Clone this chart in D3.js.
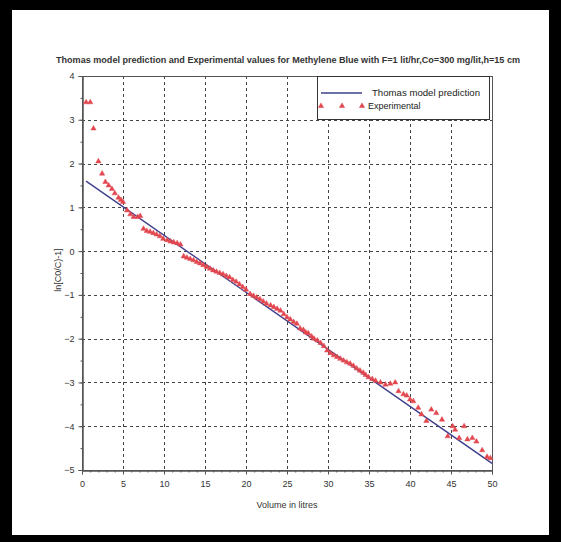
<!DOCTYPE html>
<html>
<head>
<meta charset="utf-8">
<script src="https://cdn.jsdelivr.net/npm/d3@7"></script>
<style>
  body { margin: 0; background: #000; }
  text { font-family: "Liberation Sans", Arial, sans-serif; }
</style>
</head>
<body>
<div id="chart"></div>
<script>
// experimental points (volume in litres, ln[C0/C)-1])
var expVolume = [0.5, 1.0, 1.4, 2.0, 2.45, 2.85, 3.25, 3.65, 4.0, 4.45, 4.75, 5.0, 5.5, 5.9, 6.3, 6.8, 7.1,
  7.5, 7.9, 8.3, 8.7, 9.1, 9.5, 9.9, 10.4, 10.8, 11.2, 11.6, 12.0, 12.4, 12.8, 13.2, 13.6, 14.0, 14.4,
  14.8, 15.2, 15.6, 16.0, 16.4, 16.8, 17.2, 17.6, 18.0, 18.4, 18.8, 19.2, 19.6, 20.0, 20.5, 20.9, 21.3,
  21.7, 22.1, 22.5, 23.0, 23.4, 23.8, 24.2, 24.6, 25.0, 25.4, 25.8, 26.2, 26.6, 27.0, 27.3, 27.6, 28.0,
  28.3, 28.7, 29.1, 29.5, 29.9, 30.3, 30.7, 31.1, 31.5, 31.9, 32.3, 32.7, 33.1, 33.5, 33.9, 34.3, 34.6,
  34.95, 35.4, 35.8, 36.4, 37.0, 37.6, 38.2, 38.6, 39.2, 39.6, 40.0, 40.4, 41.0, 41.4, 42.0, 42.6, 43.2,
  43.9, 44.6, 45.2, 45.5, 46.0, 46.6, 47.0, 47.6, 48.1, 48.8, 49.4, 49.8]
var expValue = [3.4, 3.4, 2.8, 2.05, 1.77, 1.58, 1.5, 1.42, 1.32, 1.22, 1.17, 1.12, 0.93, 0.84, 0.78, 0.78, 0.8,
  0.51, 0.46, 0.44, 0.41, 0.38, 0.34, 0.28, 0.25, 0.22, 0.2, 0.18, 0.15, -0.12, -0.15, -0.18, -0.21, -0.25, -0.28,
  -0.32, -0.36, -0.4, -0.44, -0.47, -0.5, -0.53, -0.57, -0.6, -0.66, -0.7, -0.76, -0.82, -0.88, -0.98, -1.02, -1.06,
  -1.1, -1.15, -1.2, -1.24, -1.28, -1.32, -1.36, -1.44, -1.51, -1.56, -1.62, -1.66, -1.77, -1.8, -1.86, -1.88, -1.95,
  -2.0, -2.04, -2.1, -2.17, -2.27, -2.33, -2.38, -2.42, -2.46, -2.5, -2.54, -2.57, -2.62, -2.68, -2.73, -2.78, -2.83,
  -2.88, -2.92, -2.96, -3.0, -3.05, -3.03, -3.0, -3.2, -3.27, -3.3, -3.39, -3.43, -3.58, -3.73, -3.88, -3.62, -3.7,
  -3.85, -4.23, -4.0, -4.08, -4.27, -4.0, -4.3, -4.27, -4.35, -4.55, -4.7, -4.73]

// Thomas model line
var modelVolume = [0.5, 50]
var modelValue = [1.6, -4.85]

var xTicks = [0, 5, 10, 15, 20, 25, 30, 35, 40, 45, 50]
var yTicks = [-5, -4, -3, -2, -1, 0, 1, 2, 3, 4]

var titleText = "Thomas model prediction and Experimental values for Methylene Blue with F=1 lit/hr,Co=300 mg/lit,h=15 cm"
var xLabel = "Volume in litres"
var yLabel = "ln[C0/C)-1]"
var legendLabels = ["Thomas model prediction", "Experimental"]

var width = 561, height = 542
var plot = { left: 82, right: 492, top: 76, bottom: 470 }
var lineColor = "#3d3f8c", markColor = "#e2474f"

var svg = d3.select("#chart").append("svg")
  .attr("width", width).attr("height", height)

// black frame with white page
svg.append("rect").attr("width", width).attr("height", height).attr("fill", "#000")
svg.append("rect").attr("x", 12).attr("y", 10).attr("width", 537).attr("height", 525).attr("fill", "#fff")

var x = d3.scaleLinear().domain([0, 50]).range([plot.left, plot.right])
var y = d3.scaleLinear().domain([-5, 4]).range([plot.bottom, plot.top])

// grid
var grid = svg.append("g").attr("stroke", "#444").attr("stroke-width", 1).attr("stroke-dasharray", "3,3")
grid.selectAll(".gx").data(xTicks.slice(1, -1)).enter().append("line")
  .attr("x1", d => Math.round(x(d)) + 0.5).attr("x2", d => Math.round(x(d)) + 0.5)
  .attr("y1", plot.top).attr("y2", plot.bottom)
grid.selectAll(".gy").data(yTicks.slice(1, -1)).enter().append("line")
  .attr("y1", d => Math.round(y(d)) + 0.5).attr("y2", d => Math.round(y(d)) + 0.5)
  .attr("x1", plot.left).attr("x2", plot.right)

// box
svg.append("rect").attr("x", plot.left + 0.5).attr("y", plot.top + 0.5)
  .attr("width", plot.right - plot.left).attr("height", plot.bottom - plot.top)
  .attr("fill", "none").attr("stroke", "#555").attr("stroke-width", 1)

// axes
svg.append("g").attr("transform", "translate(0," + (plot.bottom + 0.5) + ")")
  .call(d3.axisBottom(x).tickValues(xTicks).tickSize(4).tickPadding(6))
svg.append("g").attr("transform", "translate(0," + (plot.bottom + 0.5) + ")")
  .call(d3.axisBottom(x).ticks(50).tickSize(2).tickFormat(""))
svg.append("g").attr("transform", "translate(" + (plot.left + 0.5) + ",0)")
  .call(d3.axisLeft(y).tickValues(yTicks).tickSize(4).tickPadding(4))
svg.append("g").attr("transform", "translate(" + (plot.left + 0.5) + ",0)")
  .call(d3.axisLeft(y).tickValues(d3.range(-5, 4.01, 0.5)).tickSize(2).tickFormat(""))
svg.selectAll(".domain").attr("stroke", "#555")
svg.selectAll(".tick line").attr("stroke", "#555")
svg.selectAll(".tick text").attr("fill", "#333").style("font-size", "9px")

// model line
var line = d3.line().x(d => x(d[0])).y(d => y(d[1]))
svg.append("path").datum(d3.zip(modelVolume, modelValue))
  .attr("d", line).attr("fill", "none").attr("stroke", lineColor).attr("stroke-width", 1.4)

// experimental triangles
var tri = d3.symbol().type(d3.symbolTriangle).size(12)
svg.selectAll(".pt").data(d3.zip(expVolume, expValue)).enter().append("path")
  .attr("d", tri)
  .attr("transform", d => "translate(" + x(d[0]) + "," + y(d[1]) + ")")
  .attr("fill", markColor).attr("stroke", markColor).attr("stroke-width", 0.5)

// title and labels
svg.append("text").attr("x", 288).attr("y", 63).attr("text-anchor", "middle")
  .attr("textLength", 464).attr("lengthAdjust", "spacingAndGlyphs")
  .style("font-size", "9px").style("font-weight", "bold").attr("fill", "#333").text(titleText)
svg.append("text").attr("x", 287).attr("y", 508).attr("text-anchor", "middle")
  .style("font-size", "9px").attr("fill", "#333").text(xLabel)
svg.append("text").attr("transform", "translate(61,270) rotate(-90)").attr("text-anchor", "middle")
  .style("font-size", "9px").attr("fill", "#333").text(yLabel)

// legend
var lg = svg.append("g")
lg.append("rect").attr("x", 317.5).attr("y", plot.top + 0.5).attr("width", 172).attr("height", 43)
  .attr("fill", "#fff").attr("stroke", "#333")
lg.append("line").attr("x1", 321).attr("x2", 362).attr("y1", 93).attr("y2", 93)
  .attr("stroke", lineColor).attr("stroke-width", 1.4)
lg.selectAll(".lt").data([321, 342, 362]).enter().append("path")
  .attr("d", tri).attr("transform", d => "translate(" + d + ",106)")
  .attr("fill", markColor).attr("stroke", markColor).attr("stroke-width", 0.5)
lg.append("text").attr("x", 372).attr("y", 96).style("font-size", "9px").attr("fill", "#222")
  .attr("textLength", 108).attr("lengthAdjust", "spacingAndGlyphs").text(legendLabels[0])
lg.append("text").attr("x", 368).attr("y", 109).style("font-size", "9px").attr("fill", "#222").text(legendLabels[1])
</script>
</body>
</html>
